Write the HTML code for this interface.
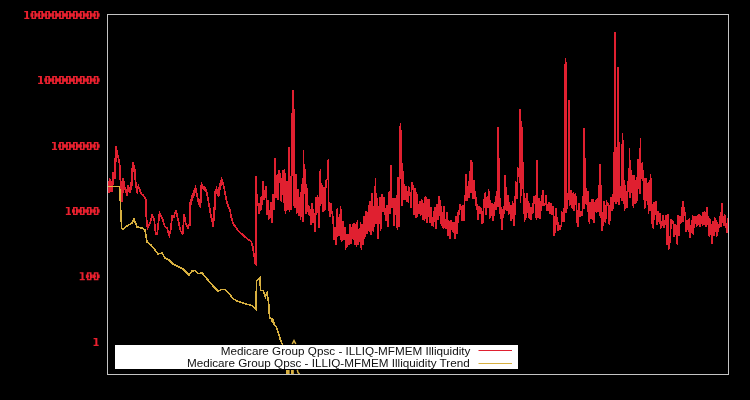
<!DOCTYPE html>
<html><head><meta charset="utf-8">
<style>
html,body{margin:0;padding:0;background:#000;width:750px;height:400px;overflow:hidden;position:relative}
svg{position:absolute;left:0;top:0}
.leg{position:absolute;left:115px;top:345px;width:403px;height:24px;background:#fff}
.lt{position:absolute;right:48px;will-change:transform;transform:scaleX(1.17);transform-origin:100% 50%;font-family:"Liberation Sans",sans-serif;font-size:10px;color:#111;white-space:nowrap;line-height:12px}
</style></head><body>
<svg width="750" height="400" viewBox="0 0 750 400">
<g fill="#e8202e"><path d="M24.27,11.00h3.1v1.2h-3.1z M26.07,11.00h2v8h-2z M24.27,17.80h5.1v1.2h-5.1z"/><path d="M30.40,13.30h1v3.4h-1z M31.40,11.00h1.7v8h-1.7z M31.40,11.00h4.7v1.2h-4.7z M31.40,17.80h4.7v1.2h-4.7z M33.10,14.20h0.5v1.6h-0.5z M34.40,11.00h1.7v8h-1.7z M36.10,13.30h1.2v3.4h-1.2z"/><path d="M37.33,13.30h1v3.4h-1z M38.33,11.00h1.7v8h-1.7z M38.33,11.00h4.7v1.2h-4.7z M38.33,17.80h4.7v1.2h-4.7z M40.03,14.20h0.5v1.6h-0.5z M41.33,11.00h1.7v8h-1.7z M43.03,13.30h1.2v3.4h-1.2z"/><path d="M44.26,13.30h1v3.4h-1z M45.26,11.00h1.7v8h-1.7z M45.26,11.00h4.7v1.2h-4.7z M45.26,17.80h4.7v1.2h-4.7z M46.96,14.20h0.5v1.6h-0.5z M48.26,11.00h1.7v8h-1.7z M49.96,13.30h1.2v3.4h-1.2z"/><path d="M51.19,13.30h1v3.4h-1z M52.19,11.00h1.7v8h-1.7z M52.19,11.00h4.7v1.2h-4.7z M52.19,17.80h4.7v1.2h-4.7z M53.89,14.20h0.5v1.6h-0.5z M55.19,11.00h1.7v8h-1.7z M56.89,13.30h1.2v3.4h-1.2z"/><path d="M58.12,13.30h1v3.4h-1z M59.12,11.00h1.7v8h-1.7z M59.12,11.00h4.7v1.2h-4.7z M59.12,17.80h4.7v1.2h-4.7z M60.82,14.20h0.5v1.6h-0.5z M62.12,11.00h1.7v8h-1.7z M63.82,13.30h1.2v3.4h-1.2z"/><path d="M65.05,13.30h1v3.4h-1z M66.05,11.00h1.7v8h-1.7z M66.05,11.00h4.7v1.2h-4.7z M66.05,17.80h4.7v1.2h-4.7z M67.75,14.20h0.5v1.6h-0.5z M69.05,11.00h1.7v8h-1.7z M70.75,13.30h1.2v3.4h-1.2z"/><path d="M71.98,13.30h1v3.4h-1z M72.98,11.00h1.7v8h-1.7z M72.98,11.00h4.7v1.2h-4.7z M72.98,17.80h4.7v1.2h-4.7z M74.68,14.20h0.5v1.6h-0.5z M75.98,11.00h1.7v8h-1.7z M77.68,13.30h1.2v3.4h-1.2z"/><path d="M78.91,13.30h1v3.4h-1z M79.91,11.00h1.7v8h-1.7z M79.91,11.00h4.7v1.2h-4.7z M79.91,17.80h4.7v1.2h-4.7z M81.61,14.20h0.5v1.6h-0.5z M82.91,11.00h1.7v8h-1.7z M84.61,13.30h1.2v3.4h-1.2z"/><path d="M85.84,13.30h1v3.4h-1z M86.84,11.00h1.7v8h-1.7z M86.84,11.00h4.7v1.2h-4.7z M86.84,17.80h4.7v1.2h-4.7z M88.54,14.20h0.5v1.6h-0.5z M89.84,11.00h1.7v8h-1.7z M91.54,13.30h1.2v3.4h-1.2z"/><path d="M92.77,13.30h1v3.4h-1z M93.77,11.00h1.7v8h-1.7z M93.77,11.00h4.7v1.2h-4.7z M93.77,17.80h4.7v1.2h-4.7z M95.47,14.20h0.5v1.6h-0.5z M96.77,11.00h1.7v8h-1.7z M98.47,13.30h1.2v3.4h-1.2z"/><path d="M38.13,76.00h3.1v1.2h-3.1z M39.93,76.00h2v8h-2z M38.13,82.80h5.1v1.2h-5.1z"/><path d="M44.26,78.30h1v3.4h-1z M45.26,76.00h1.7v8h-1.7z M45.26,76.00h4.7v1.2h-4.7z M45.26,82.80h4.7v1.2h-4.7z M46.96,79.20h0.5v1.6h-0.5z M48.26,76.00h1.7v8h-1.7z M49.96,78.30h1.2v3.4h-1.2z"/><path d="M51.19,78.30h1v3.4h-1z M52.19,76.00h1.7v8h-1.7z M52.19,76.00h4.7v1.2h-4.7z M52.19,82.80h4.7v1.2h-4.7z M53.89,79.20h0.5v1.6h-0.5z M55.19,76.00h1.7v8h-1.7z M56.89,78.30h1.2v3.4h-1.2z"/><path d="M58.12,78.30h1v3.4h-1z M59.12,76.00h1.7v8h-1.7z M59.12,76.00h4.7v1.2h-4.7z M59.12,82.80h4.7v1.2h-4.7z M60.82,79.20h0.5v1.6h-0.5z M62.12,76.00h1.7v8h-1.7z M63.82,78.30h1.2v3.4h-1.2z"/><path d="M65.05,78.30h1v3.4h-1z M66.05,76.00h1.7v8h-1.7z M66.05,76.00h4.7v1.2h-4.7z M66.05,82.80h4.7v1.2h-4.7z M67.75,79.20h0.5v1.6h-0.5z M69.05,76.00h1.7v8h-1.7z M70.75,78.30h1.2v3.4h-1.2z"/><path d="M71.98,78.30h1v3.4h-1z M72.98,76.00h1.7v8h-1.7z M72.98,76.00h4.7v1.2h-4.7z M72.98,82.80h4.7v1.2h-4.7z M74.68,79.20h0.5v1.6h-0.5z M75.98,76.00h1.7v8h-1.7z M77.68,78.30h1.2v3.4h-1.2z"/><path d="M78.91,78.30h1v3.4h-1z M79.91,76.00h1.7v8h-1.7z M79.91,76.00h4.7v1.2h-4.7z M79.91,82.80h4.7v1.2h-4.7z M81.61,79.20h0.5v1.6h-0.5z M82.91,76.00h1.7v8h-1.7z M84.61,78.30h1.2v3.4h-1.2z"/><path d="M85.84,78.30h1v3.4h-1z M86.84,76.00h1.7v8h-1.7z M86.84,76.00h4.7v1.2h-4.7z M86.84,82.80h4.7v1.2h-4.7z M88.54,79.20h0.5v1.6h-0.5z M89.84,76.00h1.7v8h-1.7z M91.54,78.30h1.2v3.4h-1.2z"/><path d="M92.77,78.30h1v3.4h-1z M93.77,76.00h1.7v8h-1.7z M93.77,76.00h4.7v1.2h-4.7z M93.77,82.80h4.7v1.2h-4.7z M95.47,79.20h0.5v1.6h-0.5z M96.77,76.00h1.7v8h-1.7z M98.47,78.30h1.2v3.4h-1.2z"/><path d="M51.99,142.00h3.1v1.2h-3.1z M53.79,142.00h2v8h-2z M51.99,148.80h5.1v1.2h-5.1z"/><path d="M58.12,144.30h1v3.4h-1z M59.12,142.00h1.7v8h-1.7z M59.12,142.00h4.7v1.2h-4.7z M59.12,148.80h4.7v1.2h-4.7z M60.82,145.20h0.5v1.6h-0.5z M62.12,142.00h1.7v8h-1.7z M63.82,144.30h1.2v3.4h-1.2z"/><path d="M65.05,144.30h1v3.4h-1z M66.05,142.00h1.7v8h-1.7z M66.05,142.00h4.7v1.2h-4.7z M66.05,148.80h4.7v1.2h-4.7z M67.75,145.20h0.5v1.6h-0.5z M69.05,142.00h1.7v8h-1.7z M70.75,144.30h1.2v3.4h-1.2z"/><path d="M71.98,144.30h1v3.4h-1z M72.98,142.00h1.7v8h-1.7z M72.98,142.00h4.7v1.2h-4.7z M72.98,148.80h4.7v1.2h-4.7z M74.68,145.20h0.5v1.6h-0.5z M75.98,142.00h1.7v8h-1.7z M77.68,144.30h1.2v3.4h-1.2z"/><path d="M78.91,144.30h1v3.4h-1z M79.91,142.00h1.7v8h-1.7z M79.91,142.00h4.7v1.2h-4.7z M79.91,148.80h4.7v1.2h-4.7z M81.61,145.20h0.5v1.6h-0.5z M82.91,142.00h1.7v8h-1.7z M84.61,144.30h1.2v3.4h-1.2z"/><path d="M85.84,144.30h1v3.4h-1z M86.84,142.00h1.7v8h-1.7z M86.84,142.00h4.7v1.2h-4.7z M86.84,148.80h4.7v1.2h-4.7z M88.54,145.20h0.5v1.6h-0.5z M89.84,142.00h1.7v8h-1.7z M91.54,144.30h1.2v3.4h-1.2z"/><path d="M92.77,144.30h1v3.4h-1z M93.77,142.00h1.7v8h-1.7z M93.77,142.00h4.7v1.2h-4.7z M93.77,148.80h4.7v1.2h-4.7z M95.47,145.20h0.5v1.6h-0.5z M96.77,142.00h1.7v8h-1.7z M98.47,144.30h1.2v3.4h-1.2z"/><path d="M65.85,207.00h3.1v1.2h-3.1z M67.65,207.00h2v8h-2z M65.85,213.80h5.1v1.2h-5.1z"/><path d="M71.98,209.30h1v3.4h-1z M72.98,207.00h1.7v8h-1.7z M72.98,207.00h4.7v1.2h-4.7z M72.98,213.80h4.7v1.2h-4.7z M74.68,210.20h0.5v1.6h-0.5z M75.98,207.00h1.7v8h-1.7z M77.68,209.30h1.2v3.4h-1.2z"/><path d="M78.91,209.30h1v3.4h-1z M79.91,207.00h1.7v8h-1.7z M79.91,207.00h4.7v1.2h-4.7z M79.91,213.80h4.7v1.2h-4.7z M81.61,210.20h0.5v1.6h-0.5z M82.91,207.00h1.7v8h-1.7z M84.61,209.30h1.2v3.4h-1.2z"/><path d="M85.84,209.30h1v3.4h-1z M86.84,207.00h1.7v8h-1.7z M86.84,207.00h4.7v1.2h-4.7z M86.84,213.80h4.7v1.2h-4.7z M88.54,210.20h0.5v1.6h-0.5z M89.84,207.00h1.7v8h-1.7z M91.54,209.30h1.2v3.4h-1.2z"/><path d="M92.77,209.30h1v3.4h-1z M93.77,207.00h1.7v8h-1.7z M93.77,207.00h4.7v1.2h-4.7z M93.77,213.80h4.7v1.2h-4.7z M95.47,210.20h0.5v1.6h-0.5z M96.77,207.00h1.7v8h-1.7z M98.47,209.30h1.2v3.4h-1.2z"/><path d="M79.71,272.20h3.1v1.2h-3.1z M81.51,272.20h2v8h-2z M79.71,279.00h5.1v1.2h-5.1z"/><path d="M85.84,274.50h1v3.4h-1z M86.84,272.20h1.7v8h-1.7z M86.84,272.20h4.7v1.2h-4.7z M86.84,279.00h4.7v1.2h-4.7z M88.54,275.40h0.5v1.6h-0.5z M89.84,272.20h1.7v8h-1.7z M91.54,274.50h1.2v3.4h-1.2z"/><path d="M92.77,274.50h1v3.4h-1z M93.77,272.20h1.7v8h-1.7z M93.77,272.20h4.7v1.2h-4.7z M93.77,279.00h4.7v1.2h-4.7z M95.47,275.40h0.5v1.6h-0.5z M96.77,272.20h1.7v8h-1.7z M98.47,274.50h1.2v3.4h-1.2z"/><path d="M93.57,338.00h3.1v1.2h-3.1z M95.37,338.00h2v8h-2z M93.57,344.80h5.1v1.2h-5.1z"/></g>
<polyline fill="none" stroke="#e02030" stroke-width="1.7" shape-rendering="crispEdges" stroke-linejoin="miter" points="108.0,182.0 108.6,190.0 109.6,178.4 110.4,189.0 111.2,184.8 112.0,189.0 112.8,172.0 114.4,176.8 116.0,146.4 117.6,154.4 119.2,160.8 120.0,172.0 120.8,189.6 121.6,199.2 123.2,178.4 124.8,188.0 126.4,192.8 128.0,186.4 129.5,190.0 131.2,184.8 132.8,162.4 134.4,167.2 135.2,178.4 136.8,191.2 138.4,186.4 140.0,190.5 141.5,194.2 143.0,195.0 144.5,197.2 145.7,199.5 146.3,216.0 147.5,228.0 149.0,225.0 150.5,222.0 152.0,215.2 154.2,219.0 155.7,234.0 157.2,234.0 159.5,213.0 162.5,219.0 164.7,226.5 167.0,228.0 169.2,235.5 170.7,229.5 172.2,216.0 173.7,217.5 176.0,210.0 178.2,220.5 180.5,231.0 182.7,234.0 184.2,214.5 185.7,223.5 188.0,228.0 189.5,223.5 190.2,202.5 192.5,195.0 195.5,187.5 197.0,195.0 198.5,202.5 200.0,204.5 201.5,183.5 203.0,186.5 205.2,188.0 206.7,192.5 208.2,200.0 210.5,213.5 212.7,224.0 214.2,210.5 215.0,192.5 216.5,188.7 218.0,194.7 219.5,186.5 221.7,179.0 223.2,183.5 224.7,191.0 227.0,203.0 230.0,210.5 231.4,217.7 233.4,224.0 238.3,230.8 245.1,237.0 251.3,241.8 252.7,246.6 255.4,263.8 256.0,264.5 256.0,176.0 256.6,192.6 257.4,206.0 258.2,203.2 259.0,213.7 259.8,203.0 260.6,211.0 261.4,195.7 262.2,205.4 263.0,180.8 263.8,200.3 264.6,190.4 265.4,198.1 266.2,186.0 267.0,215.4 267.8,199.8 268.6,219.9 269.4,209.6 270.2,217.8 271.0,202.0 271.8,222.7 272.6,201.8 273.4,193.9 274.2,210.0 274.8,158.0 275.0,184.4 275.8,197.7 276.6,194.1 277.4,174.0 278.2,199.8 279.0,169.9 279.8,173.4 280.6,179.4 281.4,202.2 282.2,179.8 283.0,170.5 283.8,203.3 284.6,169.4 285.4,213.8 286.2,206.4 287.0,181.2 287.8,210.4 288.6,185.2 289.2,146.8 289.4,211.6 290.2,176.2 291.0,209.5 291.8,169.2 292.6,90.0 293.1,92.0 293.6,104.0 294.1,141.0 294.2,205.5 295.0,207.9 295.8,174.1 296.6,213.5 297.4,202.3 298.2,189.4 299.0,215.5 299.8,196.6 300.6,220.0 301.4,190.8 302.2,184.3 303.0,221.5 303.6,150.0 303.8,193.9 304.6,171.2 305.4,170.1 306.2,213.6 307.0,187.6 307.8,212.3 308.6,205.3 309.4,215.6 310.2,209.0 311.0,224.9 311.8,202.8 312.6,222.6 313.4,209.4 314.2,220.1 315.0,232.1 315.8,197.3 316.6,214.7 317.4,196.2 318.2,197.8 319.0,227.7 319.8,196.0 320.4,169.0 320.6,206.0 321.4,183.3 322.2,188.3 323.0,212.3 323.8,186.8 324.6,211.4 325.4,191.1 326.2,180.6 327.0,179.7 327.8,178.3 328.4,158.8 328.6,211.4 329.4,201.9 330.2,217.4 331.0,202.6 331.8,212.7 332.6,214.8 333.4,224.7 334.2,240.3 335.0,226.6 335.8,245.0 336.6,238.2 337.4,207.6 338.2,235.4 339.0,234.9 339.8,231.8 340.6,206.2 341.4,241.4 342.2,239.2 343.0,220.9 343.8,239.9 344.6,232.3 345.4,227.2 346.2,247.5 347.0,246.5 347.8,233.7 348.6,239.7 349.4,245.3 350.2,223.7 351.0,244.2 351.8,235.8 352.6,223.6 353.4,239.6 354.2,223.2 355.0,244.5 355.8,223.9 356.6,246.5 357.4,220.2 358.2,245.1 359.0,234.0 359.8,242.4 360.6,221.7 361.4,249.6 362.2,224.1 363.0,245.0 363.8,215.9 364.6,238.9 365.4,217.0 366.2,211.1 367.0,233.5 367.8,229.4 368.6,205.4 369.4,232.3 370.2,201.3 371.0,235.2 371.8,193.5 372.6,203.0 373.4,231.7 374.2,217.4 375.0,198.1 375.6,178.0 375.8,223.6 376.6,199.5 377.4,198.9 378.2,238.8 379.0,213.4 379.8,197.1 380.6,231.2 381.4,199.9 382.2,194.5 383.0,212.0 383.8,197.5 384.6,214.6 385.4,207.7 386.2,221.2 387.0,205.2 387.8,227.2 388.6,196.1 389.4,191.4 390.2,213.6 390.8,165.2 391.0,189.7 391.8,207.9 392.6,197.7 393.4,205.5 394.2,226.4 395.0,198.3 395.8,214.5 396.6,194.9 397.4,229.5 398.2,177.5 399.0,227.3 399.8,169.0 400.4,123.0 401.5,150.0 402.2,205.9 403.0,170.6 403.8,200.1 404.6,184.4 405.4,199.9 406.2,186.0 407.0,201.4 407.8,201.6 408.6,186.5 409.4,195.2 410.2,192.2 411.0,207.8 411.8,181.7 412.6,190.2 413.4,184.9 414.2,214.6 415.0,188.1 415.8,217.9 416.6,192.4 417.4,216.8 418.2,203.7 419.0,213.9 419.8,200.9 420.6,216.4 421.4,200.2 422.2,201.4 423.0,219.9 423.8,202.8 424.6,220.7 425.4,196.3 426.2,199.5 427.0,222.5 427.8,198.8 428.6,217.0 429.4,199.2 430.2,222.8 431.0,207.5 431.8,225.6 432.6,217.5 433.4,226.7 434.2,211.7 435.0,207.4 435.8,228.5 436.6,205.1 437.4,205.1 438.2,220.4 439.0,196.2 439.8,200.4 440.6,223.5 441.4,205.7 442.2,225.9 443.0,226.8 443.8,206.5 444.6,228.1 445.4,218.7 446.2,228.9 447.0,212.0 447.8,236.4 448.6,220.5 449.4,229.6 450.2,238.6 451.0,220.2 451.8,230.3 452.6,222.3 453.4,232.7 454.2,221.7 455.0,238.9 455.8,216.3 456.6,234.3 457.4,228.2 458.2,212.5 459.0,214.8 459.8,204.4 460.6,210.0 461.4,205.7 462.2,221.0 463.0,205.1 463.8,221.3 464.6,201.1 465.4,194.9 466.0,174.0 466.2,179.5 467.0,201.2 467.8,197.7 468.6,181.5 469.4,197.5 470.2,173.6 471.0,160.4 471.0,193.0 471.8,187.5 472.5,162.0 472.6,193.7 473.4,199.0 474.2,179.6 475.0,198.5 475.8,196.7 476.6,210.2 477.4,204.0 478.2,220.2 479.0,206.1 479.8,214.3 480.6,207.5 481.4,210.0 482.2,222.9 483.0,222.3 483.8,199.0 484.6,208.0 485.4,191.9 486.2,215.1 487.0,197.4 487.8,207.9 488.6,190.8 489.4,191.8 490.2,216.4 491.0,214.9 491.8,203.0 492.6,217.6 493.4,221.1 494.2,204.8 495.0,202.5 495.8,210.0 496.6,190.7 497.4,193.2 498.0,127.0 498.2,207.2 499.0,198.8 499.3,158.4 499.8,214.0 500.6,206.3 501.4,219.6 502.2,229.8 503.0,208.7 503.8,214.3 504.6,203.1 505.2,175.2 505.4,210.1 506.2,187.2 507.0,210.8 507.8,195.4 508.6,214.6 509.4,204.2 510.2,205.9 511.0,221.3 511.8,215.8 512.6,201.2 513.4,219.6 514.2,225.5 515.0,207.6 515.8,182.7 516.6,183.9 517.4,199.2 517.5,167.2 518.2,171.9 519.0,171.5 519.8,182.5 520.0,109.0 520.6,203.4 521.4,121.0 522.4,144.0 523.0,184.6 523.8,194.6 524.6,222.4 525.4,197.7 526.2,218.3 527.0,192.7 527.8,212.6 528.6,201.1 529.4,219.1 530.2,206.9 531.0,220.2 531.8,206.9 532.6,213.6 533.4,202.0 534.2,197.0 535.0,196.3 535.8,213.4 536.6,219.5 536.7,160.0 537.4,202.6 538.2,218.0 539.0,198.2 539.8,219.0 540.6,201.1 541.4,211.0 542.2,196.2 543.0,189.7 543.8,205.0 544.6,205.4 545.4,204.0 546.2,194.7 547.0,210.7 547.8,204.4 548.6,211.4 549.4,201.8 550.2,214.0 551.0,202.7 551.8,215.1 552.6,209.0 553.4,205.7 554.2,236.2 555.0,231.1 555.8,208.0 556.6,225.4 557.4,217.1 558.2,230.9 559.0,225.0 559.8,230.0 560.6,226.1 561.4,225.6 562.2,213.0 563.0,213.9 563.8,222.3 564.6,202.5 565.4,58.0 566.1,67.0 566.2,213.1 567.0,206.0 567.8,192.8 568.6,199.5 569.0,100.0 569.4,202.7 570.2,205.3 571.0,190.2 571.8,205.0 572.6,208.6 573.4,192.0 574.2,210.6 575.0,193.7 575.8,196.2 576.6,208.7 577.4,223.4 578.2,226.6 579.0,203.5 579.8,217.0 580.6,210.9 581.4,214.9 582.2,214.8 583.0,195.8 583.8,209.3 584.0,128.0 584.7,160.0 585.4,203.6 586.2,187.8 587.0,204.5 587.8,191.1 588.6,220.0 589.4,221.5 590.2,202.3 591.0,218.9 591.8,199.0 592.6,220.3 593.4,199.1 594.2,222.7 595.0,204.7 595.8,200.0 596.6,213.1 597.4,197.9 598.2,211.8 599.0,185.1 599.8,216.4 600.2,164.0 600.6,181.0 601.4,219.7 602.2,231.3 603.0,221.9 603.8,200.9 604.6,203.3 605.4,223.2 606.2,209.9 607.0,203.1 607.8,204.8 608.6,203.2 609.4,225.4 610.2,213.2 611.0,197.2 611.8,210.5 612.6,194.4 613.4,208.7 614.2,189.6 614.9,32.0 615.4,42.0 615.8,204.3 616.6,188.9 617.4,201.8 617.9,67.0 618.4,92.0 619.0,205.3 619.8,187.1 620.6,197.8 621.4,185.8 622.2,200.9 622.4,132.8 623.2,155.0 623.8,186.7 624.6,210.9 625.4,184.7 626.2,203.4 627.0,207.7 627.8,181.5 628.6,192.4 629.4,166.4 629.5,148.0 630.2,198.1 631.0,169.9 631.8,193.0 632.6,175.4 633.4,208.1 634.2,175.5 635.0,204.1 635.8,180.1 636.6,203.3 637.4,175.0 638.0,159.0 638.2,169.5 639.0,184.6 639.8,193.6 640.5,137.6 640.6,179.2 641.4,173.1 642.2,169.8 642.4,161.6 643.0,180.1 643.8,179.6 644.6,208.5 645.4,196.8 646.2,177.6 647.0,201.0 647.8,182.6 648.6,214.1 649.4,180.1 650.2,197.1 650.6,174.0 651.0,199.8 651.8,224.2 652.6,204.2 653.4,228.8 654.2,202.1 655.0,214.7 655.8,201.3 656.6,216.6 657.4,225.2 658.2,211.1 659.0,221.7 659.8,212.8 660.6,228.7 661.4,221.6 662.2,226.1 663.0,215.2 663.8,228.4 664.6,220.4 665.4,224.7 666.2,215.3 667.0,244.7 667.8,214.5 668.6,249.8 669.4,236.5 670.2,243.3 671.0,218.9 671.8,221.4 672.6,221.3 673.4,224.2 674.2,236.9 675.0,224.5 675.8,234.7 676.6,225.2 677.4,245.2 678.2,215.3 679.0,235.7 679.8,216.0 680.6,222.9 681.4,222.4 682.2,207.4 683.0,221.5 683.0,200.6 683.8,208.5 684.6,214.6 685.4,213.6 686.2,232.4 687.0,220.2 687.8,227.1 688.6,231.6 689.4,218.0 690.2,238.1 691.0,228.4 691.8,232.7 692.6,215.2 693.4,234.6 694.2,215.9 695.0,222.1 695.8,216.1 696.6,227.0 697.4,215.2 698.2,224.5 699.0,214.3 699.8,227.0 700.6,215.1 701.4,222.7 702.2,223.8 703.0,212.4 703.8,224.7 704.6,211.5 705.4,224.2 706.2,226.6 707.0,206.6 707.8,225.1 708.6,216.3 709.4,237.3 710.2,218.8 711.0,227.9 711.8,243.6 712.6,220.6 713.4,226.2 714.2,235.8 715.0,219.2 715.8,220.6 716.6,236.8 717.4,222.3 718.2,232.3 719.0,225.0 719.8,225.1 720.6,211.6 721.4,227.4 722.0,203.0 722.2,210.1 723.0,220.7 723.8,225.5 724.6,214.4 725.4,221.4 726.2,226.6 727.0,232.5 727.8,217.9"/>
<polyline fill="none" stroke="#e02030" stroke-width="1.4" shape-rendering="crispEdges" points="108.5,184.5 109.1,192.5 110.1,180.9 110.9,191.5 111.7,187.3 112.5,191.5 113.3,174.5 114.9,179.3 116.5,148.9 118.1,156.9 119.7,163.3 120.5,174.5 121.3,192.1 122.1,201.7 123.7,180.9 125.3,190.5 126.9,195.3 128.5,188.9 130.0,192.5 131.7,187.3 133.3,164.9 134.9,169.7 135.7,180.9 137.3,193.7"/>
<polyline fill="none" stroke="#e02030" stroke-width="1.4" shape-rendering="crispEdges" points="190.0,226.0 190.7,205.0 193.0,197.5 196.0,190.0 197.5,197.5 199.0,205.0 200.5,207.0 202.0,186.0 203.5,189.0 205.7,190.5 207.2,195.0 208.7,202.5 211.0,216.0 213.2,226.5 214.7,213.0 215.5,195.0 217.0,191.2 218.5,197.2 220.0,189.0 222.2,181.5 223.7,186.0 225.2,193.5"/>
<polyline fill="none" stroke="#d8b040" stroke-width="1.6" shape-rendering="crispEdges" points="108.0,186.5 119.6,186.5 121.6,228.0 123.0,229.0 127.0,226.0 132.0,223.0 134.0,219.0 137.0,227.0 142.0,228.0 145.0,230.0 147.0,242.0 151.0,245.0 155.0,250.0 158.0,254.0 162.0,253.0 165.0,258.0 169.0,260.0 173.0,264.0 177.0,266.0 183.0,269.0 189.0,275.0 192.0,271.0 195.0,270.4 198.2,273.6 202.2,272.8 204.6,276.0 208.6,280.8 211.0,283.2 213.4,286.4 215.8,288.8 218.2,291.2 221.4,289.6 225.4,289.6 228.6,292.8 232.6,298.4 236.6,300.8 241.4,302.4 246.2,304.0 251.8,305.6 255.8,309.6 256.6,280.8 259.8,277.6 260.6,290.4 263.0,290.4 265.4,296.8 267.0,293.0 268.6,302.4 269.4,315.2 270.0,318.0 273.0,319.5 271.5,321.0 274.0,323.0 272.5,320.0 274.5,325.0 276.5,327.0 278.0,332.0 280.5,340.0 282.0,343.5 286.0,352.0"/>
<polyline fill="none" stroke="#d8b040" stroke-width="1.5" points="292.2,344 294,340.6 295.8,344"/>
<rect x="286" y="370" width="3.6" height="4" fill="#d8b040"/>
<rect x="291" y="370" width="2.8" height="4" fill="#d8b040"/>
<polyline fill="none" stroke="#d8b040" stroke-width="1.5" points="297.3,369.8 298,372.6 299.6,374"/>
</svg>
<div class="leg">
<div class="lt" style="top:0.6px">Medicare Group Qpsc - ILLIQ-MFMEM Illiquidity</div>
<div class="lt" style="top:13.0px">Medicare Group Qpsc - ILLIQ-MFMEM Illiquidity Trend</div>
</div>
<svg width="750" height="400" viewBox="0 0 750 400">
<line x1="478.5" y1="350.5" x2="512" y2="350.5" stroke="#e02030" stroke-width="1"/>
<line x1="478.5" y1="363.5" x2="512" y2="363.5" stroke="#d8b040" stroke-width="1"/>
<rect x="107.5" y="14.5" width="621" height="360" fill="none" stroke="#c4c4c4" stroke-width="1"/>
</svg>
</body></html>
